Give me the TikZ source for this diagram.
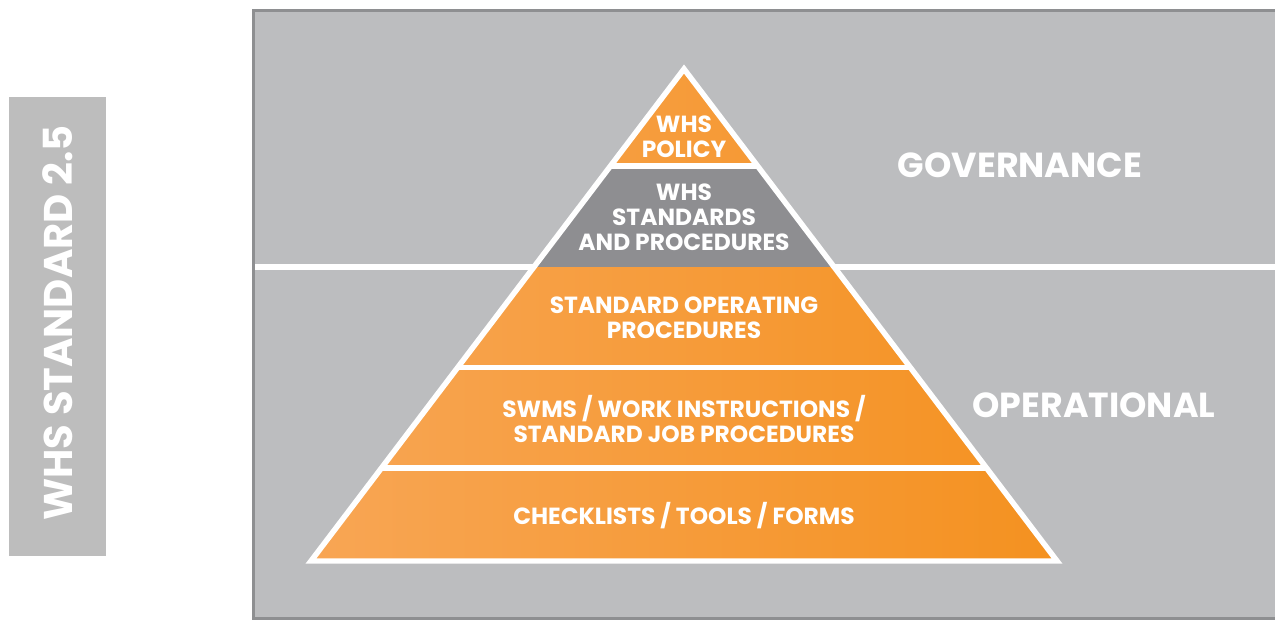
\documentclass[tikz,border=0pt]{standalone}
\usepackage{fontspec}
\setmainfont{Poppins}
\usetikzlibrary{positioning}

\definecolor{boxgrey}{HTML}{BCBDBF}
\definecolor{boxedge}{HTML}{8E8F91}
\definecolor{bargrey}{HTML}{BDBDBD}
\definecolor{midgrey}{HTML}{8E8E91}
\definecolor{orangeL}{HTML}{F8A655}
\definecolor{orangeR}{HTML}{F4911F}

\begin{document}
\begin{tikzpicture}[x=0.02cm, y=-0.02cm,
      every node/.style = {text=white, align=center, inner sep=0pt},
      layer/.style = {font=\bfseries\fontsize{13.3}{14.2}\selectfont},
      side/.style = {font=\bfseries\fontsize{19.8}{20}\selectfont},
      gap/.style = {draw=white, line width=0.11cm}]
    \useasboundingbox (0,0) rectangle (1275,621);
    \clip (0,0) rectangle (1275,621);
    % left bar
    \fill[bargrey] (9,97) rectangle (106,556);
    \node[rotate=90, font=\bfseries\fontsize{22.8}{23}\selectfont] (std) at (58,323) {WHS STANDARD 2.5};
    % grey panel
    \draw[fill=boxgrey, draw=boxedge, line width=0.06cm] (253.5,10.5) rectangle (1290,618.5);
    \draw[gap] (255,267) -- (1280,267);
    % pyramid
    \begin{scope}
      \clip (684,69) -- (1057,561) -- (311,561) -- cycle;
      \fill[left color=orangeL, right color=orangeR] (300,60) rectangle (1070,570);
      \fill[midgrey] (300,166) rectangle (1070,267);
      \draw[gap] (300,166) -- (1070,166);
      \draw[gap] (300,367.5) -- (1070,367.5);
      \draw[gap] (300,468) -- (1070,468);
    \end{scope}
    \draw[gap, line join=miter] (684,69) -- (1057,561) -- (311,561) -- cycle;
    % labels
    \node[layer] (policy) at (684,137) {WHS\\POLICY};
    \node[layer] (standards) at (684,217) {WHS\\STANDARDS\\AND PROCEDURES};
    \node[layer] (sop) at (684,318) {STANDARD OPERATING\\PROCEDURES};
    \node[layer] (swms) at (684,419) {SWMS / WORK INSTRUCTIONS /\\STANDARD JOB PROCEDURES};
    \node[layer] (forms) at (684,516) {CHECKLISTS / TOOLS / FORMS};
    \node[side] (gov) at (1020,165) {GOVERNANCE};
    \node[side] (ops) at (1094,405) {OPERATIONAL};
  \end{tikzpicture}
\end{document}
